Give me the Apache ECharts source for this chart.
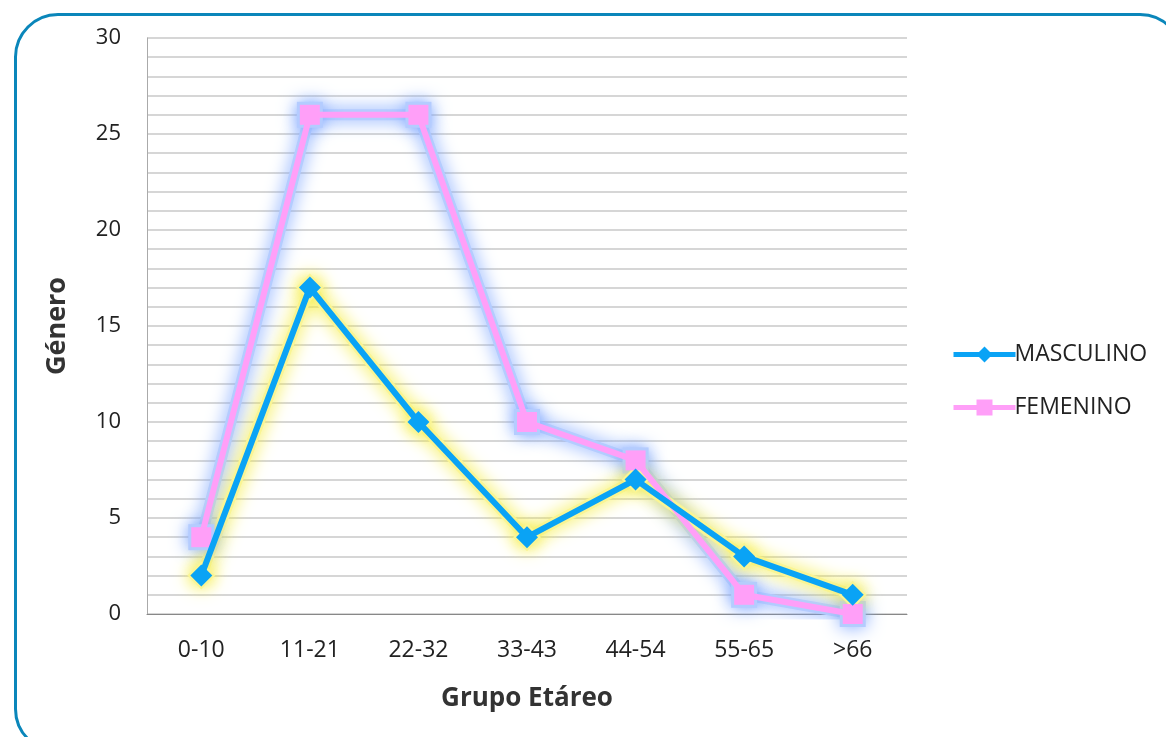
<!DOCTYPE html>
<html>
<head>
<meta charset="utf-8">
<script src="https://cdn.jsdelivr.net/npm/echarts@6/dist/echarts.min.js"></script>
<style>
  html, body { margin: 0; padding: 0; background: #fff; }
  #frame {
    position: absolute; left: 14px; top: 13px; width: 1170px; height: 740px;
    border: 3px solid #0a86ba; border-radius: 44px; box-sizing: border-box;
  }
  #chart { position: absolute; left: 0; top: 0; width: 1166px; height: 737px; }
</style>
</head>
<body>
<div id="frame"></div>
<div id="chart"></div>
<script>
const categories = ['0-10', '11-21', '22-32', '33-43', '44-54', '55-65', '>66']
const masculino = [2, 17, 10, 4, 7, 3, 1]
const femenino = [4, 26, 26, 10, 8, 1, 0]

const font = '"Open Sans", "Noto Sans", sans-serif'

// soft halo drawn under a series (Excel-style glow)
function glow(data, fill, halo, symbol, size) {
  return {
    type: 'line',
    data: data,
    symbol: symbol,
    symbolSize: size,
    silent: true,
    legendHoverLink: false,
    lineStyle: { width: 11, color: fill, shadowBlur: 18, shadowColor: halo, cap: 'round', join: 'round' },
    itemStyle: { color: fill, shadowBlur: 18, shadowColor: halo },
    z: 1
  }
}

const myChart = echarts.init(document.getElementById('chart'))

const option = {
  animation: false,
  grid: { left: 147, right: 259, top: 38, bottom: 123 },
  legend: {
    orient: 'vertical',
    left: 946,
    top: 338,
    itemWidth: 62,
    itemHeight: 20,
    itemGap: 30,
    lineStyle: { width: 5 },
    textStyle: { fontFamily: font, fontSize: 23, color: '#222', padding: [0, 0, 0, -6] },
    data: ['MASCULINO', 'FEMENINO']
  },
  xAxis: {
    type: 'category',
    data: categories,
    name: 'Grupo Etáreo',
    nameLocation: 'middle',
    nameGap: 72,
    nameTextStyle: { fontFamily: font, fontSize: 26, fontWeight: 'bold', color: '#333' },
    axisTick: { show: false },
    axisLine: { lineStyle: { color: '#888', width: 1 } },
    axisLabel: { fontFamily: font, fontSize: 23, color: '#222', margin: 25 }
  },
  yAxis: {
    type: 'value',
    min: 0,
    max: 30,
    interval: 1,
    name: 'Género',
    nameLocation: 'middle',
    nameGap: 76,
    nameRotate: 90,
    nameTextStyle: { fontFamily: font, fontSize: 27, fontWeight: 'bold', color: '#333' },
    axisLine: { show: true, lineStyle: { color: '#aaa' } },
    axisTick: { show: false },
    splitLine: { lineStyle: { color: '#c8c8c8', width: 1.5 } },
    axisLabel: {
      fontFamily: font, fontSize: 22, color: '#222', margin: 26,
      formatter: v => (v % 5 === 0 ? String(v) : '')
    }
  },
  series: [
    glow(femenino, '#b4ccff', '#7ea6ff', 'rect', 26),
    glow(masculino, '#faf594', '#f4ec3c', 'diamond', 28),
    {
      name: 'FEMENINO',
      type: 'line',
      data: femenino,
      symbol: 'rect',
      symbolSize: 20,
      color: '#ff9ff8',
      lineStyle: { width: 6, color: '#ff9ff8' },
      itemStyle: { color: '#ff9ff8' },
      z: 2
    },
    {
      name: 'MASCULINO',
      type: 'line',
      data: masculino,
      symbol: 'diamond',
      symbolSize: 22,
      color: '#0aa3f5',
      lineStyle: { width: 6, color: '#0aa3f5' },
      itemStyle: { color: '#0aa3f5' },
      z: 3
    }
  ]
}

myChart.setOption(option)
</script>
</body>
</html>
